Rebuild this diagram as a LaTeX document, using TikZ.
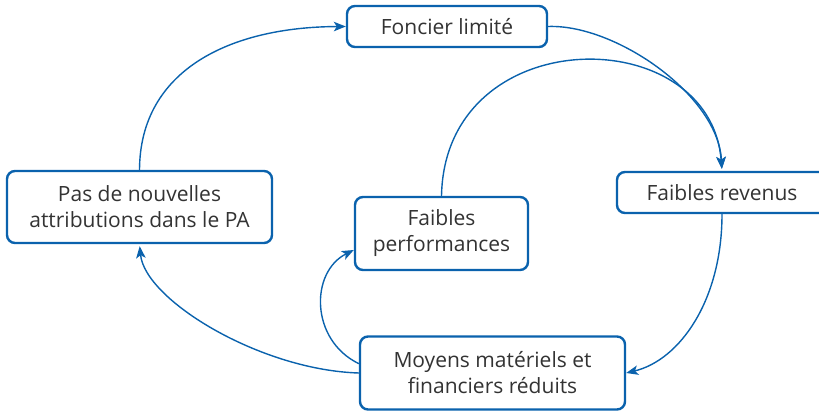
\documentclass[tikz,border=0pt]{standalone}
\usepackage{fontspec}
\setmainfont{Open Sans}
\usetikzlibrary{arrows.meta}
\definecolor{cblue}{HTML}{0A62AD}
\definecolor{ctext}{HTML}{333333}
\tikzset{
  box/.style={draw=cblue, line width=2.4pt, rounded corners=8pt, fill=white,
    text=ctext, align=center, inner sep=0pt,
    font=\fontsize{21}{26}\selectfont},
  link/.style={draw=cblue, line width=1.4pt,
    -{Stealth[length=12pt,width=9.5pt,inset=3pt]}},
}
\begin{document}
\begin{tikzpicture}[x=1pt,y=-1pt]
\useasboundingbox (0,0) rectangle (819,411);
\node[box, minimum width=200pt, minimum height=41pt] (fon) at (447,26.5) {Foncier limité};
\node[box, minimum width=210pt, minimum height=41pt] (rev) at (722,192.5) {Faibles revenus};
\node[box, minimum width=173pt, minimum height=73pt] (perf) at (441.5,233.5) {Faibles\\performances};
\node[box, minimum width=265pt, minimum height=73pt] (moy) at (492.5,373) {Moyens matériels et\\financiers réduits};
\node[box, minimum width=265pt, minimum height=72pt] (pas) at (139.5,207) {Pas de nouvelles\\attributions dans le PA};
\draw[link] (pas.north) .. controls (140,70) and (230,27) .. (fon.west);
\draw[link, shorten >=2pt] (fon.east) .. controls (615,24) and (718,95) .. (rev.north);
\draw[link, shorten >=2pt] (perf.north) .. controls (445,20) and (710,20) .. (rev.north);
\draw[link] (rev.south) .. controls (722,300) and (680,360) .. (moy.east);
\draw[link, shorten >=2pt] (moy.west) .. controls (260,370) and (145,300) .. (pas.south);
\draw[link] (moy.176) .. controls (310,340) and (310,272) .. (perf.west|-0,250);
\end{tikzpicture}
\end{document}
